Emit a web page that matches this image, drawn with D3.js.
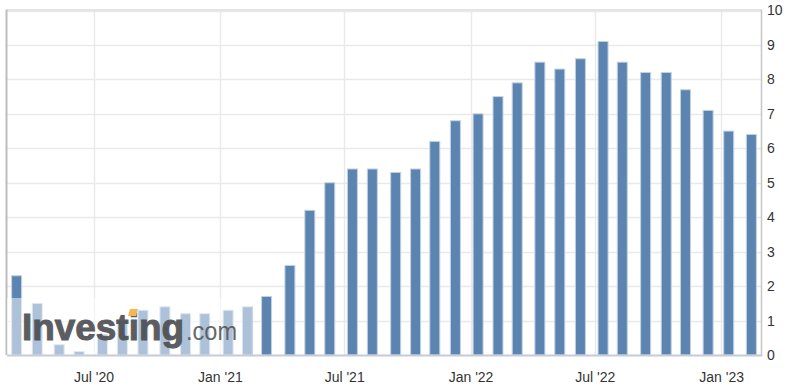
<!DOCTYPE html>
<html>
<head>
<meta charset="utf-8">
<script src="https://cdn.jsdelivr.net/npm/d3@7"></script>
<style>
  body { margin: 0; background: #fff; }
  svg { display: block; font-family: "Liberation Sans", Arial, sans-serif; }
</style>
</head>
<body>
<div id="chart"></div>
<script>
// release dates of each reading and the value shown
const releaseDates = [
    '2020-03-11','2020-04-10','2020-05-12','2020-06-10','2020-07-14','2020-08-12',
    '2020-09-11','2020-10-13','2020-11-12','2020-12-10','2021-01-13','2021-02-10',
    '2021-03-10','2021-04-13','2021-05-12','2021-06-10','2021-07-13','2021-08-11',
    '2021-09-14','2021-10-13','2021-11-10','2021-12-10','2022-01-12','2022-02-10',
    '2022-03-10','2022-04-12','2022-05-11','2022-06-10','2022-07-13','2022-08-10',
    '2022-09-13','2022-10-13','2022-11-10','2022-12-13','2023-01-12','2023-02-14'
];
const values = [
    2.3, 1.5, 0.3, 0.1, 0.6, 1.0,
    1.3, 1.4, 1.2, 1.2, 1.3, 1.4,
    1.7, 2.6, 4.2, 5.0, 5.4, 5.4,
    5.3, 5.4, 6.2, 6.8, 7.0, 7.5,
    7.9, 8.5, 8.3, 8.6, 9.1, 8.5,
    8.2, 8.2, 7.7, 7.1, 6.5, 6.4
];
const xTickDates = ['2020-07-01','2021-01-01','2021-07-01','2022-01-01','2022-07-01','2023-01-01'];
const xTickLabels = ["Jul '20", "Jan '21", "Jul '21", "Jan '22", "Jul '22", "Jan '23"];
const yTicks = [0, 1, 2, 3, 4, 5, 6, 7, 8, 9, 10];

const w = 790;
const h = 391;
const plotL = 7, plotR = 761, plotT = 10.5, plotB = 355;

const parse = d3.timeParse('%Y-%m-%d');

const xScale = d3.scaleTime()
    .domain([parse('2020-02-26'), parse('2023-02-28')])
    .range([plotL, plotR]);

const yScale = d3.scaleLinear()
    .domain([0, 10])
    .range([plotB, plotT]);

const svg = d3.select('#chart')
    .append('svg')
    .attr('width', w)
    .attr('height', h);

// horizontal grid
svg.append('g')
    .selectAll('line')
    .data(yTicks.slice(1))
    .enter()
    .append('line')
    .attr('x1', plotL)
    .attr('x2', plotR)
    .attr('y1', d => Math.round(yScale(d)) + 0.5)
    .attr('y2', d => Math.round(yScale(d)) + 0.5)
    .attr('stroke', '#e9e9e9')
    .attr('stroke-width', 1.5);

// vertical grid
svg.append('g')
    .selectAll('line')
    .data(xTickDates)
    .enter()
    .append('line')
    .attr('x1', d => Math.round(xScale(parse(d))) + 0.5)
    .attr('x2', d => Math.round(xScale(parse(d))) + 0.5)
    .attr('y1', plotT)
    .attr('y2', plotB)
    .attr('stroke', '#e9e9e9')
    .attr('stroke-width', 1.5);

// top border and left border
svg.append('line')
    .attr('x1', plotL).attr('x2', plotR)
    .attr('y1', plotT - 0.5).attr('y2', plotT - 0.5)
    .attr('stroke', '#dcdcdc').attr('stroke-width', 1.5);
svg.append('line')
    .attr('x1', plotL - 0.5).attr('x2', plotL - 0.5)
    .attr('y1', plotT - 1).attr('y2', plotB)
    .attr('stroke', '#bdbdbd').attr('stroke-width', 2);

// bars
const barW = 10;
svg.append('g')
    .selectAll('rect')
    .data(values)
    .enter()
    .append('rect')
    .attr('x', (d, i) => xScale(parse(releaseDates[i])) - barW / 2)
    .attr('y', d => yScale(d))
    .attr('width', barW)
    .attr('height', d => plotB - yScale(d))
    .attr('fill', '#5b84b1')
    .attr('stroke', '#c3d2e3')
    .attr('stroke-width', 1);

// faded area behind the watermark
svg.append('rect')
    .attr('x', plotL)
    .attr('y', 298)
    .attr('width', 252 - plotL)
    .attr('height', plotB - 298)
    .attr('fill', '#fff')
    .attr('opacity', 0.5);

// watermark
const logo = svg.append('g').attr('opacity', 0.9);
logo.append('text')
    .attr('x', 22)
    .attr('y', 340)
    .attr('font-size', 37)
    .attr('font-weight', 'bold')
    .attr('fill', '#4a4c50')
    .attr('stroke', '#4a4c50')
    .attr('stroke-width', 1)
    .attr('textLength', 162)
    .attr('lengthAdjust', 'spacingAndGlyphs')
    .text('Investing');
logo.append('polygon')
    .attr('points', '130,309 138,309 136,316 128,316')
    .attr('fill', '#f6b03c');
logo.append('text')
    .attr('x', 186)
    .attr('y', 340)
    .attr('font-size', 25)
    .attr('fill', '#55575a')
    .attr('textLength', 51)
    .attr('lengthAdjust', 'spacingAndGlyphs')
    .text('.com');

// bottom axis line and right axis line
svg.append('line')
    .attr('x1', plotL).attr('x2', plotR + 1)
    .attr('y1', plotB + 0.5).attr('y2', plotB + 0.5)
    .attr('stroke', '#c3ccd8').attr('stroke-width', 2);
svg.append('line')
    .attr('x1', plotR + 0.5).attr('x2', plotR + 0.5)
    .attr('y1', plotT - 1).attr('y2', plotB + 1)
    .attr('stroke', '#c6c6c6').attr('stroke-width', 1.5);

// x labels
const xAxis = d3.axisBottom(xScale)
    .tickValues(xTickDates.map(parse))
    .tickSize(0)
    .tickPadding(0)
    .tickFormat((d, i) => xTickLabels[i]);

svg.append('g')
    .attr('id', 'x-axis')
    .attr('transform', 'translate(0,' + 372 + ')')
    .call(xAxis)
    .call(g => g.select('.domain').remove())
    .selectAll('text')
    .attr('font-size', 14)
    .attr('font-family', '"Liberation Sans", Arial, sans-serif')
    .attr('fill', '#333');

// y labels on the right
const yAxis = d3.axisRight(yScale)
    .tickValues(yTicks)
    .tickSize(0)
    .tickPadding(6)
    .tickFormat(d3.format('d'));

svg.append('g')
    .attr('id', 'y-axis')
    .attr('transform', 'translate(' + plotR + ',0)')
    .call(yAxis)
    .call(g => g.select('.domain').remove())
    .selectAll('text')
    .attr('font-size', 14)
    .attr('font-family', '"Liberation Sans", Arial, sans-serif')
    .attr('fill', '#333');
</script>
</body>
</html>
